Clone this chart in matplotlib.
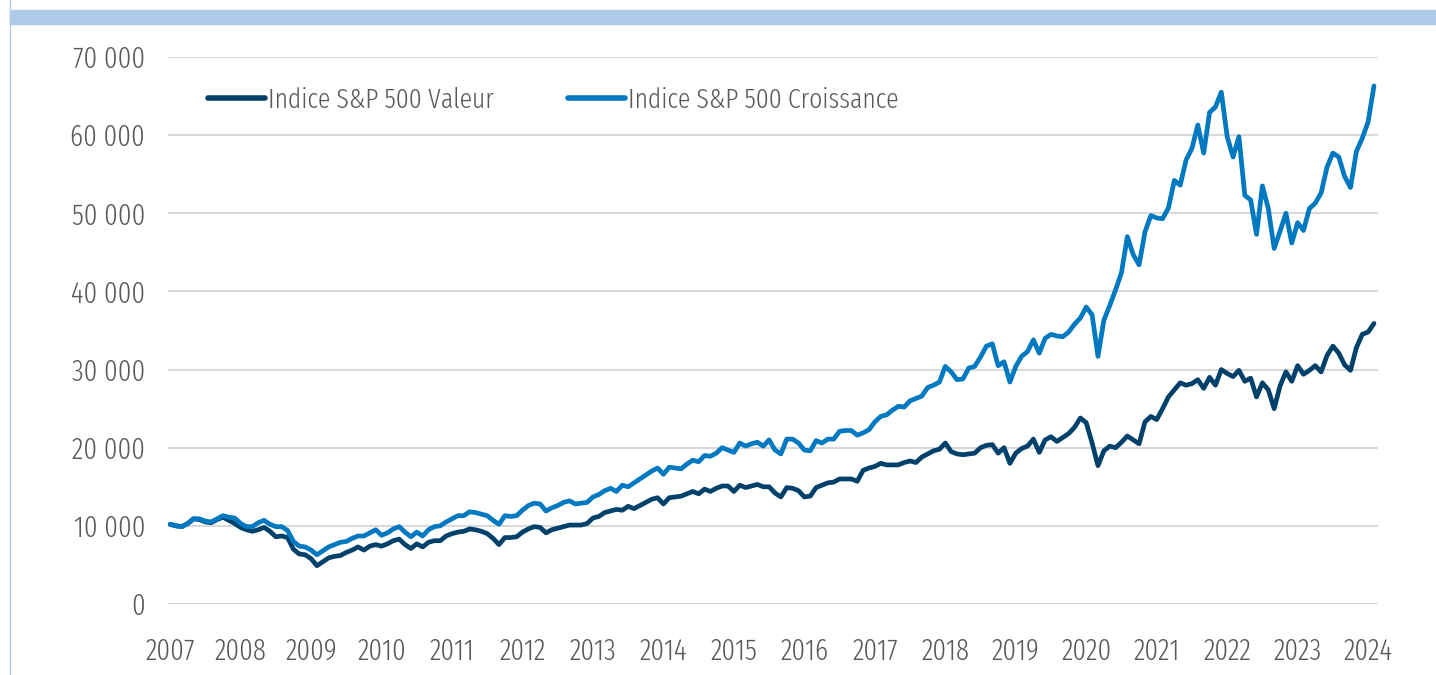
import numpy as np
import matplotlib
matplotlib.use('Agg')
import matplotlib.pyplot as plt
from matplotlib.lines import Line2D
from matplotlib.patches import Rectangle

# monthly values, Jan 2007 .. Feb 2024
valeur = [
    10200, 10000, 9900, 10300, 10900, 10800, 10500, 10400, 10800, 11100, 10700, 10300,   # 2007
    9800, 9500, 9300, 9500, 9800, 9300, 8600, 8700, 8500, 7000, 6400, 6300,               # 2008
    5800, 4900, 5400, 5900, 6100, 6200, 6600, 6900, 7300, 6900, 7400, 7600,               # 2009
    7400, 7700, 8100, 8300, 7600, 7100, 7700, 7300, 7900, 8100, 8100, 8700,               # 2010
    9000, 9200, 9300, 9600, 9500, 9300, 9000, 8400, 7600, 8500, 8500, 8600,               # 2011
    9200, 9600, 9900, 9800, 9100, 9500, 9700, 9900, 10100, 10100, 10100, 10300,           # 2012
    11000, 11200, 11700, 11900, 12100, 12000, 12500, 12200, 12600, 13000, 13400, 13600,   # 2013
    12800, 13600, 13700, 13800, 14100, 14400, 14100, 14700, 14400, 14800, 15100, 15100,   # 2014
    14400, 15200, 14900, 15100, 15300, 15000, 15000, 14200, 13700, 14900, 14800, 14500,   # 2015
    13700, 13800, 14900, 15200, 15500, 15600, 16000, 16000, 16000, 15700, 17100, 17400,   # 2016
    17600, 18000, 17800, 17800, 17800, 18100, 18300, 18100, 18800, 19200, 19600, 19800,   # 2017
    20600, 19500, 19200, 19100, 19200, 19300, 20000, 20300, 20400, 19300, 20000, 18000,   # 2018
    19300, 19900, 20200, 21100, 19400, 21000, 21400, 20800, 21300, 21800, 22600, 23800,   # 2019
    23200, 20600, 17700, 19600, 20200, 20000, 20700, 21500, 21000, 20500, 23300, 24000,   # 2020
    23600, 25000, 26500, 27400, 28300, 28000, 28200, 28700, 27600, 29000, 28000, 30000,   # 2021
    29500, 29100, 29900, 28500, 28900, 26500, 28300, 27400, 25000, 27900, 29700, 28500,   # 2022
    30500, 29400, 29900, 30500, 29700, 31800, 33000, 32100, 30600, 29900, 32800, 34500,   # 2023
    34800, 35900,                                                                         # 2024
]

croissance = [
    10200, 10000, 9900, 10300, 10900, 10900, 10600, 10500, 10900, 11300, 11100, 11000,   # 2007
    10300, 9900, 9900, 10400, 10700, 10200, 9900, 9900, 9400, 8000, 7400, 7300,           # 2008
    6900, 6300, 6800, 7300, 7600, 7900, 8000, 8400, 8700, 8700, 9100, 9500,               # 2009
    8800, 9100, 9600, 9900, 9200, 8600, 9200, 8700, 9500, 9900, 10000, 10500,             # 2010
    10900, 11300, 11300, 11800, 11700, 11500, 11300, 10700, 10200, 11300, 11200, 11300,   # 2011
    12000, 12600, 12900, 12800, 11900, 12300, 12600, 13000, 13200, 12800, 12900, 13000,   # 2012
    13700, 14000, 14500, 14800, 14400, 15200, 15000, 15500, 16000, 16500, 17000, 17400,   # 2013
    16600, 17500, 17400, 17300, 17900, 18400, 18200, 19000, 18900, 19300, 20000, 19700,   # 2014
    19400, 20600, 20200, 20500, 20700, 20200, 21000, 19700, 19200, 21100, 21100, 20600,   # 2015
    19700, 19600, 20900, 20600, 21100, 21100, 22100, 22200, 22200, 21600, 21900, 22300,   # 2016
    23300, 24000, 24200, 24800, 25300, 25200, 26000, 26300, 26600, 27700, 28000, 28400,   # 2017
    30400, 29700, 28700, 28800, 30200, 30400, 31600, 33000, 33300, 30500, 31000, 28400,   # 2018
    30400, 31700, 32300, 33800, 32100, 34000, 34500, 34300, 34200, 34800, 35800, 36600,   # 2019
    38000, 37000, 31700, 36300, 38200, 40200, 42400, 47000, 44700, 43400, 47600, 49700,   # 2020
    49400, 49300, 50700, 54200, 53600, 56800, 58300, 61300, 57700, 62900, 63600, 65500,   # 2021
    59800, 57200, 59800, 52300, 51700, 47300, 53500, 50600, 45500, 47700, 50000, 46200,   # 2022
    48800, 47800, 50600, 51300, 52600, 55900, 57700, 57200, 54700, 53300, 57900, 59600,   # 2023
    61700, 66300,                                                                         # 2024
]

labels = ['Indice S&P 500 Valeur', 'Indice S&P 500 Croissance']
years = list(range(2007, 2025))
yticks = list(range(0, 70001, 10000))

col_val = '#00416B'
col_cro = '#0079C1'
txt_col = '#595959'

plt.rcParams['font.family'] = ['Fira Sans Extra Condensed', 'DejaVu Sans']
plt.rcParams['font.weight'] = 300

t = 2007 + np.arange(len(valeur)) / 12.0

fig = plt.figure(figsize=(14.36, 6.75), dpi=100)
ax = fig.add_axes([0.117, 0.1052, 0.8426, 0.8104])

ax.plot(t, valeur, color=col_val, lw=3.4, solid_joinstyle='round', solid_capstyle='round', zorder=3)
ax.plot(t, croissance, color=col_cro, lw=3.4, solid_joinstyle='round', solid_capstyle='round', zorder=3)

ax.set_xlim(2006.97, 2024.14)
ax.set_ylim(0, 70000)
ax.set_yticks(yticks)
ax.set_yticklabels(['{:,}'.format(v).replace(',', ' ') for v in yticks])
ax.set_xticks(years)
ax.set_xticklabels([str(y) for y in years])
ax.tick_params(axis='both', length=0, labelsize=21, labelcolor=txt_col)
ax.tick_params(axis='y', pad=16.5)
ax.tick_params(axis='x', pad=24)
ax.yaxis.grid(True, color='#d9d9d9', lw=1.5)
ax.set_axisbelow(True)
for s in ax.spines.values():
    s.set_visible(False)

# legend: two separate entries placed where the handles start
for lab, col, xs in [(labels[0], col_val, 208), (labels[1], col_cro, 568)]:
    h = Line2D([], [], color=col, lw=4.0, solid_capstyle='round')
    leg = fig.legend([h], [lab], loc='center left', bbox_to_anchor=(xs / 1436, 1 - 100 / 675),
                     frameon=False, fontsize=20, handlelength=2.05, handletextpad=0.12,
                     borderpad=0, borderaxespad=0)
    for tx in leg.get_texts():
        tx.set_color(txt_col)

# top band and left border
fig.patches.append(Rectangle((10 / 1436, 1 - 24 / 675), 1, 14 / 675, transform=fig.transFigure,
                             color='#aecae9', zorder=0))
fig.lines.append(Line2D([10 / 1436, 10 / 1436], [0, 1], transform=fig.transFigure,
                        color='#aecae9', lw=1.0))

fig.savefig('out.png', dpi=100)
